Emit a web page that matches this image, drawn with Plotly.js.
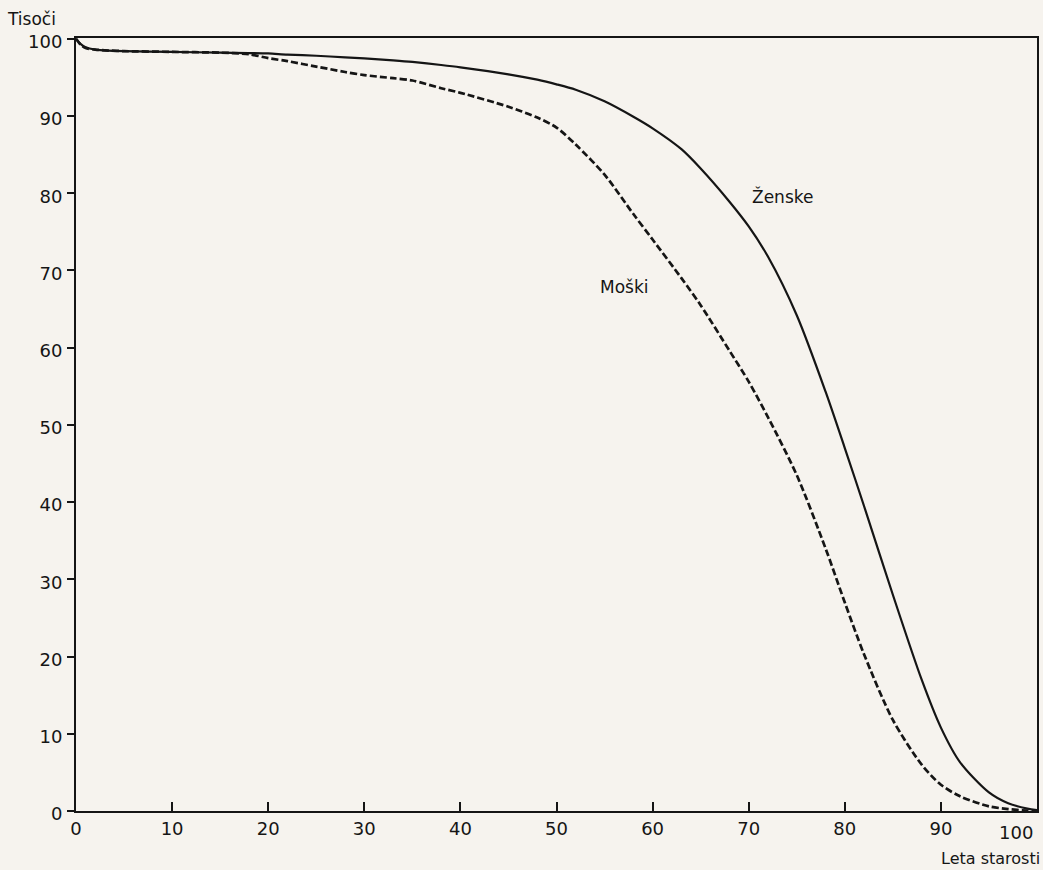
<!DOCTYPE html>
<html>
<head>
<meta charset="utf-8">
<script src="https://cdn.plot.ly/plotly-3.0.1.min.js"></script>
<style>
  html, body { margin: 0; padding: 0; background: #f6f3ee; }
  #chart { width: 1043px; height: 870px; }
</style>
</head>
<body>
<div id="chart"></div>
<script>
// Age (years)
const ages = [0, 0.5, 1, 2, 3, 5, 10, 15, 18, 20, 22, 25, 28, 30, 33, 35, 38, 40, 45, 48, 50, 52, 55, 58, 60, 63, 65, 68, 70, 72, 75, 78, 80, 82, 85, 88, 90, 92, 95, 97, 99, 100];
// Survivors (thousands) - women
const zenske = [100, 99.3, 98.9, 98.6, 98.5, 98.4, 98.3, 98.2, 98.15, 98.1, 97.95, 97.8, 97.6, 97.45, 97.2, 97.0, 96.6, 96.3, 95.4, 94.7, 94.1, 93.4, 91.9, 89.9, 88.4, 85.7, 83.2, 78.9, 75.7, 71.8, 64.2, 54.3, 47.0, 39.5, 28.0, 17.0, 10.8, 6.3, 2.4, 1.0, 0.3, 0.1];
// Survivors (thousands) - men
const moski = [100, 99.2, 98.8, 98.6, 98.5, 98.4, 98.3, 98.2, 98.0, 97.5, 97.1, 96.4, 95.7, 95.3, 94.9, 94.6, 93.6, 93.0, 91.2, 89.8, 88.5, 86.3, 82.4, 77.3, 74.0, 69.0, 65.5, 59.6, 55.6, 51.0, 43.5, 34.0, 27.0, 20.3, 11.8, 6.0, 3.4, 1.9, 0.6, 0.25, 0.05, 0];

const xTickVals = [0, 10, 20, 30, 40, 50, 60, 70, 80, 90, 100];
const xTickText = ['0', '10', '20', '30', '40', '50', '60', '70', '80', '90', ''];
const yTickVals = [0, 10, 20, 30, 40, 50, 60, 70, 80, 90, 100];
const yTickText = ['0', '10', '20', '30', '40', '50', '60', '70', '80', '90', '100'];

const ink = '#151515';
const fontFam = '"DejaVu Sans", "Liberation Sans", Arial, sans-serif';

// label placement helper: converts a pixel column to an age on this layout
function protoX(px) { return (px - 76) / 961 * 100; }

const traces = [
  {
    x: ages, y: zenske, type: 'scatter', mode: 'lines', name: 'Ženske',
    line: { color: ink, width: 2.2, shape: 'spline', smoothing: 0.8 },
    hoverinfo: 'skip'
  },
  {
    x: ages, y: moski, type: 'scatter', mode: 'lines', name: 'Moški',
    line: { color: ink, width: 2.7, dash: '7px,3px', shape: 'spline', smoothing: 0.8 },
    hoverinfo: 'skip'
  }
];

const layout = {
  width: 1043, height: 870,
  paper_bgcolor: '#f6f3ee', plot_bgcolor: '#f6f3ee',
  margin: { l: 76, r: 6, t: 38, b: 59 },
  showlegend: false,
  font: { family: fontFam, color: ink, size: 17 },
  title: {
    text: 'Tisoči', xref: 'container', yref: 'container',
    x: 8 / 1043, xanchor: 'left', y: 1 - 19 / 870, yanchor: 'middle',
    font: { family: fontFam, size: 17, color: ink }
  },
  xaxis: {
    range: [0, 100], tickvals: xTickVals, ticktext: xTickText,
    ticks: 'inside', ticklen: 9, tickwidth: 2, tickcolor: ink,
    showline: true, linecolor: ink, linewidth: 2, mirror: true,
    showgrid: false, zeroline: false, fixedrange: true,
    tickfont: { family: fontFam, size: 18, color: ink }
  },
  yaxis: {
    range: [0, 100.1], tickvals: yTickVals, ticktext: yTickText,
    ticks: 'outside', ticklen: 7, tickwidth: 2, tickcolor: ink,
    showline: true, linecolor: ink, linewidth: 2, mirror: true,
    showgrid: false, zeroline: false, fixedrange: true,
    ticklabelshift: 3, ticklabelstandoff: 1,
    tickfont: { family: fontFam, size: 18, color: ink }
  },
  annotations: [
    { text: 'Ženske', x: protoX(750), y: 79.6, xref: 'x', yref: 'y', showarrow: false,
      xanchor: 'left', yanchor: 'middle', font: { family: fontFam, size: 17, color: ink } },
    { text: 'Moški', x: protoX(598), y: 67.9, xref: 'x', yref: 'y', showarrow: false,
      xanchor: 'left', yanchor: 'middle', font: { family: fontFam, size: 17, color: ink } },
    { text: '100', x: 1, y: 0, xref: 'paper', yref: 'paper', showarrow: false,
      xanchor: 'right', yanchor: 'top', xshift: -2, yshift: -9,
      font: { family: fontFam, size: 18, color: ink } },
    { text: 'Leta starosti', x: 1, y: 0, xref: 'paper', yref: 'paper', showarrow: false,
      xanchor: 'right', yanchor: 'top', xshift: 5, yshift: -36,
      font: { family: fontFam, size: 16, color: ink } }
  ]
};

Plotly.newPlot('chart', traces, layout, { staticPlot: true, displayModeBar: false });
</script>
</body>
</html>
